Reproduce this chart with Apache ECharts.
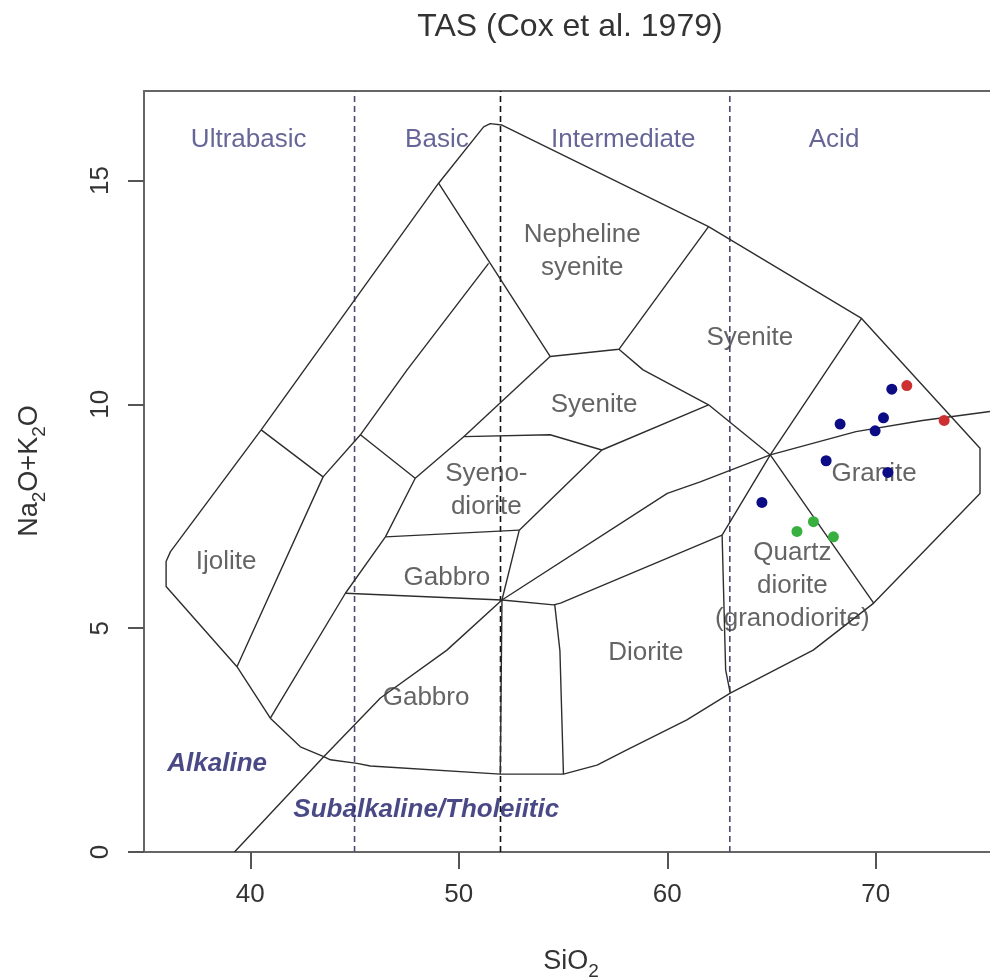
<!DOCTYPE html>
<html>
<head>
<meta charset="utf-8">
<script src="https://cdn.jsdelivr.net/npm/echarts@6/dist/echarts.min.js"></script>
<style>
html,body{margin:0;padding:0;background:#fff}
#tas{width:990px;height:979px}
</style>
</head>
<body>
<div id="tas"></div>
<script>
// ticks
var xTicks = [40, 50, 60, 70];
var yTicks = [0, 5, 10, 15];

// field boundaries, [SiO2, Na2O+K2O]
var outline = [[36.17,6.71],[40.52,9.43],[49.03,14.94],[51.19,16.20],[51.51,16.27],[52.07,16.24],[61.98,13.97],[69.32,11.92],[75.0,9.02],[75.0,8.01],[69.90,5.56],[67.0,4.51],[63.02,3.55],[60.94,2.95],[58.06,2.28],[56.63,1.94],[55.02,1.74],[51.99,1.74],[45.76,1.92],[45.12,1.98],[43.84,2.06],[43.52,2.13],[42.40,2.35],[40.96,2.99],[39.36,4.14],[35.96,5.93],[35.96,6.49],[36.17,6.71]];
var ijolite = [[40.52,9.43],[43.49,8.38],[39.36,4.14]];
var lineB = [[43.49,8.38],[45.28,9.32],[47.52,10.77],[51.43,13.15]];
var nephSyenite = [[49.03,14.94],[54.38,11.07],[57.68,11.23],[61.98,13.97]];
var lineD = [[57.68,11.23],[58.84,10.77],[61.98,9.99],[64.94,8.87],[69.90,5.56]];
var graniteLeft = [[69.32,11.92],[64.94,8.87],[62.63,7.08],[62.80,4.07],[63.02,3.55]];
var dioriteTop = [[62.63,7.08],[54.88,5.56],[54.55,5.52],[52.07,5.63]];
var dioriteLeft = [[54.60,5.53],[54.85,4.50],[55.02,1.74]];
var gabbroRight = [[52.07,5.63],[51.99,1.74]];
var gabbroTop = [[44.56,5.78],[52.07,5.63]];
var syenoRight = [[52.07,5.63],[52.90,7.19],[56.86,8.98],[61.98,9.99]];
var syenoBottom = [[46.48,7.04],[52.90,7.19]];
var syeniteBottom = [[47.91,8.35],[50.25,9.28],[54.38,9.32],[56.86,8.98]];
var syeniteLeft = [[50.25,9.28],[54.38,11.07]];
var midLine = [[45.28,9.32],[47.91,8.35],[46.48,7.04],[44.56,5.78],[40.96,2.99]];
var alkalineLine = [[39.24,0],[43.52,2.13],[46.24,3.44],[49.43,4.51],[52.07,5.63],[60.0,8.01],[61.58,8.27],[64.94,8.87],[69.05,9.39],[72.24,9.64],[75.48,9.84],[76.0,9.87]];

// silica divisions
var blueDivs = [45, 63];
var blackDivs = [52];

// samples
var blueSamples = [[70.77,10.34],[68.29,9.56],[70.37,9.70],[69.97,9.41],[67.62,8.74],[70.58,8.48],[64.54,7.81]];
var redSamples = [[71.49,10.42],[73.28,9.64]];
var greenSamples = [[66.22,7.16],[67.01,7.38],[67.97,7.04]];

// labels [text, SiO2, Na2O+K2O]
var groupLabels = [['Ultrabasic',39.92,15.91],['Basic',48.95,15.91],['Intermediate',57.89,15.91],['Acid',68.0,15.91]];
var fieldLabels = [['Nepheline\nsyenite',55.92,13.42],['Syenite',63.96,11.48],['Syenite',56.49,9.99],['Syeno-\ndiorite',51.32,8.09],['Gabbro',49.43,6.13],['Gabbro',48.43,3.44],['Ijolite',38.84,6.48],['Diorite',58.97,4.45],['Granite',69.92,8.45],['Quartz\ndiorite\n(granodiorite)',66.0,5.94]];
var seriesLabels = [['Alkaline',38.41,1.97],['Subalkaline/Tholeiitic',48.44,0.94]];

var FONT = 'Liberation Sans, Arial, sans-serif';
var X_MIN = 34.90, X_MAX = 75.48;
var chart = echarts.init(document.getElementById('tas'));

function boundary(pts) {
    return {
        type: 'line', data: pts, showSymbol: false, silent: true, z: 3,
        lineStyle: {color: '#2e2e2e', width: 1.4}
    };
}
function vline(x, color) {
    return {
        type: 'line', data: [[x, 0], [x, 17]], showSymbol: false, silent: true, z: 2,
        lineStyle: {color: color, width: 1.6, type: [6, 4]}
    };
}
function textSeries(list, style) {
    return {
        type: 'scatter', symbolSize: 0, silent: true, z: 6,
        data: list.map(function (l) { return {name: l[0], value: [l[1], l[2]]}; }),
        label: Object.assign({show: true, position: 'inside', formatter: '{b}', fontFamily: FONT, fontSize: 26}, style)
    };
}
function samples(pts, color) {
    return {
        type: 'scatter', data: pts, symbolSize: 11, z: 8,
        itemStyle: {color: color, opacity: 1}
    };
}

var series = [];
[outline, ijolite, lineB, nephSyenite, lineD, graniteLeft, dioriteTop, dioriteLeft,
 gabbroRight, gabbroTop, syenoRight, syenoBottom, syeniteBottom, syeniteLeft, midLine, alkalineLine]
    .forEach(function (p) { series.push(boundary(p)); });
blueDivs.forEach(function (x) { series.push(vline(x, '#4a4a72')); });
blackDivs.forEach(function (x) { series.push(vline(x, '#111')); });
series.push(textSeries(groupLabels, {color: '#3e3e7e'}));
series.push(textSeries(fieldLabels, {color: '#3d3d3d', lineHeight: 33}));
series.push(textSeries(seriesLabels, {color: '#1c1c68', fontStyle: 'italic', fontWeight: 'bold'}));
series.push(samples(blueSamples, '#0c0c85'));
series.push(samples(redSamples, '#cc3030'));
series.push(samples(greenSamples, '#38b040'));

var frame = {color: '#666', width: 2};

chart.setOption({
    animation: false,
    backgroundColor: '#fff',
    grid: {left: 144, top: 91, right: 0, height: 761},
    xAxis: [{
        type: 'value', min: X_MIN, max: X_MAX, position: 'bottom',
        axisLine: {show: true, onZero: false, lineStyle: frame},
        splitLine: {show: false},
        axisTick: {show: true, customValues: xTicks, length: 17, lineStyle: {color: '#555', width: 2}},
        axisLabel: {customValues: xTicks, margin: 30, fontSize: 26, color: '#333', fontFamily: FONT}
    }, {
        type: 'value', min: X_MIN, max: X_MAX, position: 'top',
        axisLine: {show: true, onZero: false, lineStyle: frame},
        splitLine: {show: false}, axisTick: {show: false}, axisLabel: {show: false}
    }],
    yAxis: {
        type: 'value', min: 0, max: 17,
        axisLine: {show: true, onZero: false, lineStyle: frame},
        splitLine: {show: false},
        axisTick: {show: true, customValues: yTicks, length: 16, lineStyle: {color: '#555', width: 2}},
        axisLabel: {customValues: yTicks, rotate: 90, margin: 30, fontSize: 26, color: '#333', fontFamily: FONT}
    },
    graphic: [
        {type: 'text', x: 570, y: 27, style: {text: 'TAS (Cox et al. 1979)', fontSize: 32, fontFamily: FONT, fill: '#333', align: 'center', verticalAlign: 'middle'}},
        {type: 'text', x: 571, y: 962, style: {
            text: '{n|SiO}{s|2}', align: 'center', verticalAlign: 'middle', fill: '#333',
            rich: {n: {fontSize: 27, fontFamily: FONT, lineHeight: 27, verticalAlign: 'top'},
                   s: {fontSize: 19, fontFamily: FONT, lineHeight: 19, verticalAlign: 'top', padding: [14, 0, 0, 0]}}
        }},
        {type: 'text', x: 30, y: 471, rotation: Math.PI / 2, style: {
            text: '{n|Na}{s|2}{n|O+K}{s|2}{n|O}', align: 'center', verticalAlign: 'middle', fill: '#333',
            rich: {n: {fontSize: 27, fontFamily: FONT, lineHeight: 27, verticalAlign: 'top'},
                   s: {fontSize: 19, fontFamily: FONT, lineHeight: 19, verticalAlign: 'top', padding: [14, 0, 0, 0]}}
        }}
    ],
    series: series
});
</script>
</body>
</html>
